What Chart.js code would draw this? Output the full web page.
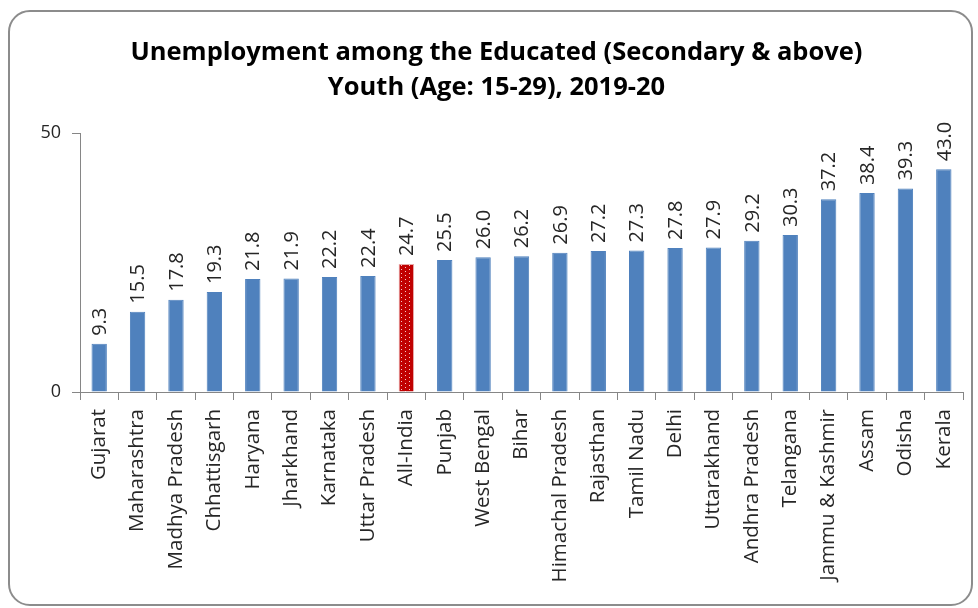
<!DOCTYPE html>
<html>
<head>
<meta charset="utf-8">
<script src="https://cdn.jsdelivr.net/npm/chart.js@4/dist/chart.umd.min.js"></script>
<style>
  html, body { margin: 0; padding: 0; background: #fff; overflow: hidden; }
  #wrap { position: relative; width: 978px; height: 608px; }
  #frame {
    position: absolute; left: 8px; top: 10px; width: 965px; height: 596px;
    border: 2px solid #8c8c8c; border-radius: 22px; box-sizing: border-box;
  }
  #chart { position: absolute; left: 0; top: 0; }
</style>
</head>
<body>
<div id="wrap">
  <div id="frame"></div>
  <canvas id="chart" width="978" height="608"></canvas>
</div>
<script>
// ─── data ───────────────────────────────────────────────────────────
const states = [
  'Gujarat', 'Maharashtra', 'Madhya Pradesh', 'Chhattisgarh', 'Haryana', 'Jharkhand',
  'Karnataka', 'Uttar Pradesh', 'All-India', 'Punjab', 'West Bengal', 'Bihar',
  'Himachal Pradesh', 'Rajasthan', 'Tamil Nadu', 'Delhi', 'Uttarakhand',
  'Andhra Pradesh', 'Telangana', 'Jammu & Kashmir', 'Assam', 'Odisha', 'Kerala',
];
const rates = [
  9.3, 15.5, 17.8, 19.3, 21.8, 21.9, 22.2, 22.4, 24.7, 25.5, 26.0, 26.2,
  26.9, 27.2, 27.3, 27.8, 27.9, 29.2, 30.3, 37.2, 38.4, 39.3, 43.0,
];
const titleLines = ['Unemployment among the Educated (Secondary & above)', 'Youth (Age: 15-29), 2019-20'];
const yTicks = [0, 50];

const FONT = '"Open Sans", "Noto Sans", sans-serif';
const BLUE = '#4F81BD';
const INK = '#262626';

// red tile with white dots for the national average bar
function dottedRed() {
  const c = document.createElement('canvas');
  c.width = 8; c.height = 8;
  const g = c.getContext('2d');
  g.fillStyle = '#C00000';
  g.fillRect(0, 0, 8, 8);
  g.fillStyle = '#f4c8c8';
  [[1, 1], [5, 3], [1, 5], [5, 7]].forEach(([x, y]) => g.fillRect(x, y, 1, 1));
  return g.createPattern(c, 'repeat');
}
const redPattern = dottedRed();

// value labels, written vertically above each bar
const barLabels = {
  id: 'barLabels',
  afterDatasetsDraw(chart) {
    const ctx = chart.ctx;
    const meta = chart.getDatasetMeta(0);
    ctx.save();
    ctx.font = '20px ' + FONT;
    ctx.fillStyle = INK;
    ctx.textAlign = 'left';
    ctx.textBaseline = 'middle';
    meta.data.forEach((bar, i) => {
      ctx.save();
      ctx.translate(bar.x + 1, bar.y - 8);
      ctx.rotate(-Math.PI / 2);
      ctx.fillText(rates[i].toFixed(1), 0, 0);
      ctx.restore();
    });
    ctx.restore();
  },
};

new Chart(document.getElementById('chart'), {
  type: 'bar',
  data: {
    labels: states,
    datasets: [{
      data: rates,
      backgroundColor: states.map(s => s === 'All-India' ? redPattern : BLUE),
      borderColor: states.map(s => s === 'All-India' ? '#e8a8a8' : BLUE),
      borderWidth: 1,
      barPercentage: 0.4,
      categoryPercentage: 1,
    }],
  },
  options: {
    responsive: false,
    animation: false,
    layout: { padding: { left: 30, right: 15, top: 0, bottom: 0 } },
    plugins: {
      legend: { display: false },
      tooltip: { enabled: false },
      title: {
        display: true,
        text: titleLines,
        color: '#000',
        font: { family: FONT, size: 25.5, weight: 'bold', lineHeight: 1.373 },
        padding: { top: 35, bottom: 28 },
      },
    },
    scales: {
      x: {
        grid: { drawOnChartArea: false, offset: true, tickLength: 8, color: '#868686' },
        border: { color: '#868686' },
        ticks: {
          minRotation: 90, maxRotation: 90, autoSkip: false, padding: 9,
          color: INK, font: { family: FONT, size: 20.5 },
        },
        afterFit(s) { s.height = 216; },
      },
      y: {
        min: 0, max: 50,
        afterBuildTicks(s) { s.ticks = yTicks.map(v => ({ value: v })); },
        grid: { drawOnChartArea: false, tickLength: 8, color: '#868686' },
        border: { color: '#868686' },
        ticks: { padding: 11, color: INK, font: { family: FONT, size: 18 } },
        afterFit(s) { s.width = 50; },
      },
    },
  },
  plugins: [barLabels],
});
</script>
</body>
</html>
